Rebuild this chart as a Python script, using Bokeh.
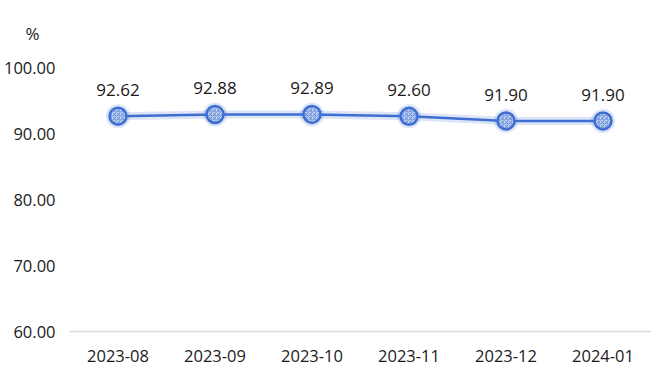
from bokeh.plotting import figure
from bokeh.models import ColumnDataSource, FixedTicker, LabelSet, CustomJSTickFormatter
from bokeh.core.properties import value
from bokeh.embed import file_html
from bokeh.resources import INLINE

months = ["2023-08", "2023-09", "2023-10", "2023-11", "2023-12", "2024-01"]
values = [92.62, 92.88, 92.89, 92.60, 91.90, 91.90]
labels = ["92.62", "92.88", "92.89", "92.60", "91.90", "91.90"]
y_ticks = [60, 70, 80, 90, 100]

src = ColumnDataSource(dict(x=months, y=values, t=labels))

FONT = "Open Sans"
BLUE = "#3e6fd0"

p = figure(x_range=months, y_range=(60, 100), width=651, height=367,
           output_backend="svg", toolbar_location=None, title="%",
           min_border_left=63, min_border_right=0, min_border_top=65, min_border_bottom=36)
p.title.align = "left"
p.title.vertical_align = "top"
p.title.offset = -44
p.title.text_font = FONT
p.title.text_font_size = "17px"
p.title.text_font_style = "normal"
p.title.text_color = "#1a1a1a"
p.title.standoff = 42

p.outline_line_color = None
p.xgrid.grid_line_color = None
p.ygrid.grid_line_color = None

p.yaxis.ticker = FixedTicker(ticks=y_ticks)
p.yaxis.formatter = CustomJSTickFormatter(code="return tick.toFixed(2);")
p.yaxis.axis_line_color = None
p.yaxis.major_tick_line_color = None
p.yaxis.minor_tick_line_color = None
p.yaxis.major_label_text_font = FONT
p.yaxis.major_label_text_font_size = "16.5px"
p.yaxis.major_label_text_color = "#1a1a1a"
p.yaxis.major_label_standoff = 8

p.xaxis.axis_line_color = "#d9d9d9"
p.xaxis.axis_line_width = 1.5
p.xaxis.major_tick_line_color = None
p.xaxis.minor_tick_line_color = None
p.xaxis.major_label_text_font = FONT
p.xaxis.major_label_text_font_size = "16.5px"
p.xaxis.major_label_text_color = "#1a1a1a"
p.xaxis.major_label_standoff = 12

# glow
p.line("x", "y", source=src, line_color=BLUE, line_width=8, line_alpha=0.18)
p.line("x", "y", source=src, line_color=BLUE, line_width=2.5)
p.scatter("x", "y", source=src, size=24, fill_color=BLUE, fill_alpha=0.18, line_color=None)
p.scatter("x", "y", source=src, size=17, fill_color="white", line_color=BLUE, line_width=2.5,
          hatch_pattern="criss_cross", hatch_color=BLUE, hatch_scale=4, hatch_weight=1.1, hatch_alpha=0.7)

p.add_layout(LabelSet(x="x", y="y", text="t", source=src, y_offset=20, text_align="center",
                      text_font=value(FONT), text_font_size="17px", text_color="#1a1a1a"))

open("out.html", "w").write(file_html(p, INLINE))
